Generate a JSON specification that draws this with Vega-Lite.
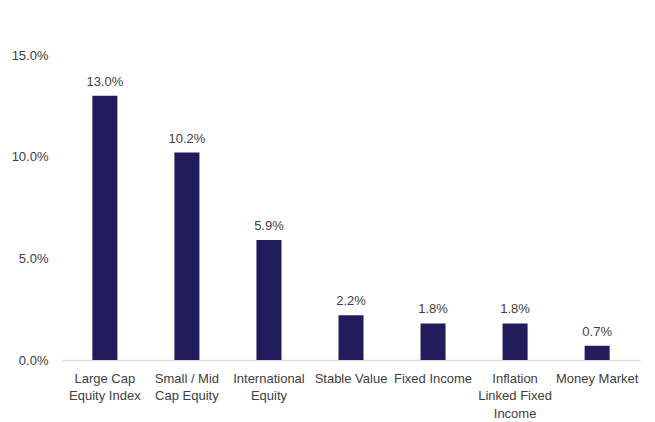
{
  "$schema": "https://vega.github.io/schema/vega-lite/v6.json",
  "autosize": "none",
  "width": 578,
  "height": 305,
  "padding": {"left": 62, "top": 55, "right": 15, "bottom": 62},
  "background": "white",
  "config": {
    "view": {"stroke": null},
    "font": "Liberation Sans"
  },
  "data": {
    "values": [
      {"category": "Large Cap|Equity Index", "value": 0.130},
      {"category": "Small / Mid|Cap Equity", "value": 0.102},
      {"category": "International|Equity", "value": 0.059},
      {"category": "Stable Value", "value": 0.022},
      {"category": "Fixed Income", "value": 0.018},
      {"category": "Inflation|Linked Fixed|Income", "value": 0.018},
      {"category": "Money Market", "value": 0.007}
    ]
  },
  "encoding": {
    "x": {
      "field": "category",
      "type": "nominal",
      "sort": null,
      "scale": {"paddingInner": 0.695, "paddingOuter": 0.37},
      "axis": {
        "title": null,
        "labelAngle": 0,
        "labelExpr": "split(datum.label, '|')",
        "labelFont": "Liberation Sans",
        "labelFontSize": 13,
        "labelColor": "#404040",
        "labelLineHeight": 17.5,
        "labelBaseline": "top",
        "labelPadding": 12,
        "ticks": false,
        "domainColor": "#d9d9d9",
        "domainWidth": 1.5
      }
    },
    "y": {
      "field": "value",
      "type": "quantitative",
      "scale": {"domain": [0, 0.15], "nice": false},
      "axis": {
        "title": null,
        "values": [0, 0.05, 0.1, 0.15],
        "format": ".1%",
        "grid": false,
        "domain": false,
        "ticks": false,
        "labelFont": "Liberation Sans",
        "labelFontSize": 13,
        "labelColor": "#404040",
        "labelPadding": 14
      }
    }
  },
  "layer": [
    {"mark": {"type": "bar", "color": "#221b5c"}},
    {
      "mark": {"type": "text", "dy": -10, "baseline": "alphabetic", "fontSize": 13, "color": "#404040", "font": "Liberation Sans"},
      "encoding": {"text": {"field": "value", "type": "quantitative", "format": ".1%"}}
    }
  ]
}
